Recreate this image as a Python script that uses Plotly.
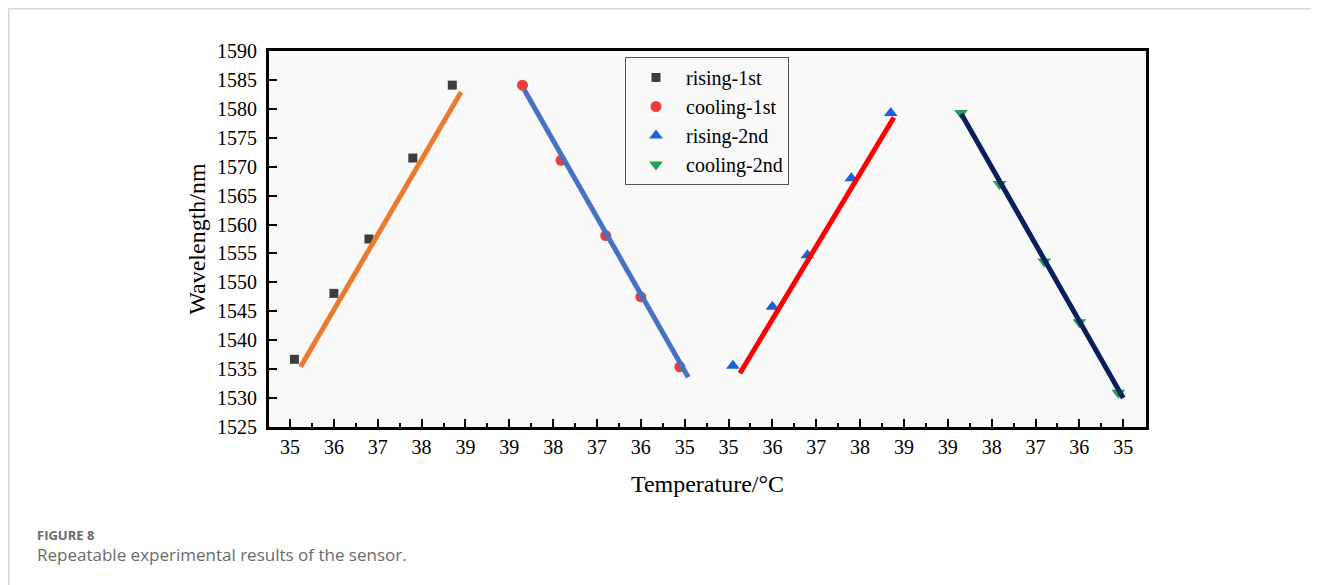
import plotly.graph_objects as go

# ---------------- data ----------------
tick_labels = ["35", "36", "37", "38", "39", "39", "38", "37", "36", "35",
               "35", "36", "37", "38", "39", "39", "38", "37", "36", "35"]

temps = [35.1, 36.0, 36.8, 37.8, 38.7]          # heating temperatures (°C)
cooling_temps = [38.7, 37.82, 36.8, 36.0, 35.11]  # cooling temperatures (°C)

rising_1st = [1536.7, 1548.1, 1557.5, 1571.5, 1584.1]
cooling_1st = [1584.1, 1571.1, 1558.1, 1547.5, 1535.4]
rising_2nd = [1535.6, 1545.8, 1554.7, 1568.0, 1579.3]
cooling_2nd = [1579.3, 1567.0, 1553.6, 1543.1, 1530.9]

# linear-fit line end points (temperature, wavelength)
fit_r1_t = [35.24, 38.90]
fit_r1_w = [1535.4, 1582.9]
fit_c1_t = [38.66, 34.92]
fit_c1_w = [1583.3, 1533.6]
fit_r2_t = [35.26, 38.77]
fit_r2_w = [1534.3, 1578.5]
fit_c2_t = [38.69, 35.00]
fit_c2_w = [1579.1, 1530.0]

T_LOW, T_HIGH = 35, 39


def pos(temps_, segment):
    """Map temperatures onto the concatenated (rise/cool/rise/cool) axis."""
    offset = segment * 5
    if segment % 2 == 0:  # rising segment
        return [offset + (t - T_LOW) for t in temps_]
    return [offset + (T_HIGH - t) for t in temps_]  # cooling segment


# ---------------- figure geometry ----------------
# the page body has an 8px margin, so the figure is 8px smaller each way
OFF = 8
W, H = 1319 - OFF, 585 - OFF
L, R, T, B = 261, 173, 43, 158
serif = "Liberation Serif, Times New Roman, serif"
sans = "Open Sans, sans-serif"

pw = W - L - R
ph = H - T - B


def px_x(px):
    return (px - L) / pw


def px_y(py):
    return 1 - (py - T) / ph


fig = go.Figure()

series = [
    ("rising-1st", temps, rising_1st, 0, "square", "#3d3d3d", 9),
    ("cooling-1st", cooling_temps, cooling_1st, 1, "circle", "#f03c3c", 11),
    ("rising-2nd", temps, rising_2nd, 2, "triangle-up", "#1a62d8", 12),
    ("cooling-2nd", cooling_temps, cooling_2nd, 3, "triangle-down", "#22a055", 12),
]
for name, t_, w_, seg, sym, col, sz in series:
    fig.add_trace(go.Scatter(
        x=pos(t_, seg), y=w_, mode="markers", name=name,
        marker=dict(symbol=sym, color=col, size=sz, line=dict(width=0)),
    ))

fits = [
    (fit_r1_t, fit_r1_w, 0, "#ec7a2c"),
    (fit_c1_t, fit_c1_w, 1, "#4472c4"),
    (fit_r2_t, fit_r2_w, 2, "#ff0000"),
    (fit_c2_t, fit_c2_w, 3, "#0b1f5c"),
]
for t_, w_, seg, col in fits:
    fig.add_trace(go.Scatter(
        x=pos(t_, seg), y=w_, mode="lines", showlegend=False,
        line=dict(color=col, width=5), hoverinfo="skip",
    ))

tickvals = list(range(len(tick_labels)))
minor_vals = [v + 0.5 for v in tickvals[:-1]]

fig.update_layout(
    width=W, height=H,
    margin=dict(l=L, r=R, t=T, b=B, autoexpand=False),
    paper_bgcolor="white",
    plot_bgcolor="#f9f9f9",
    font=dict(family=serif, color="black", size=20),
    showlegend=True,
    legend=dict(
        x=px_x(617), y=px_y(49), xanchor="left", yanchor="top",
        bgcolor="#f9f9f9", bordercolor="#555555", borderwidth=1,
        font=dict(family=serif, size=20, color="black"),
        itemwidth=50, tracegroupgap=0,
    ),
    xaxis=dict(
        range=[-0.48, 19.52], tickmode="array", tickvals=tickvals,
        ticktext=tick_labels, ticks="inside", ticklen=8, tickwidth=2,
        tickcolor="black", showline=True, linewidth=3, linecolor="black",
        mirror=True, showgrid=False, zeroline=False,
        tickfont=dict(family=serif, size=20),
        minor=dict(tickvals=minor_vals, ticks="inside", ticklen=4,
                   tickwidth=2, tickcolor="black", showgrid=False),
        title=dict(text="Temperature/°C", font=dict(family=serif, size=24),
                   standoff=19),
    ),
    yaxis=dict(
        range=[1525, 1590], tickmode="linear", tick0=1525, dtick=5,
        ticks="inside", ticklen=8, tickwidth=2, tickcolor="black",
        showline=True, linewidth=3, linecolor="black", mirror=True,
        showgrid=False, zeroline=False, ticklabelstandoff=5,
        tickfont=dict(family=serif, size=20),
        title=dict(text="Wavelength/nm", font=dict(family=serif, size=24),
                   standoff=5),
    ),
    shapes=[
        dict(type="line", xref="paper", yref="paper",
             x0=px_x(0.75), x1=px_x(W), y0=px_y(0.75), y1=px_y(0.75),
             line=dict(color="#d6d6d6", width=1.5)),
        dict(type="line", xref="paper", yref="paper",
             x0=px_x(0.75), x1=px_x(0.75), y0=px_y(0.75), y1=px_y(H),
             line=dict(color="#d6d6d6", width=1.5)),
    ],
    annotations=[
        dict(text="<b>FIGURE 8</b>", xref="paper", yref="paper",
             x=px_x(27), y=px_y(527), xanchor="left", yanchor="middle",
             showarrow=False,
             font=dict(family=sans, size=13, color="#6a6a6a")),
        dict(text="Repeatable experimental results of the sensor.",
             xref="paper", yref="paper",
             x=px_x(27), y=px_y(546.5), xanchor="left", yanchor="middle",
             showarrow=False,
             font=dict(family=sans, size=17, color="#6a6a6a")),
    ],
)

fig.write_html("out.html")
